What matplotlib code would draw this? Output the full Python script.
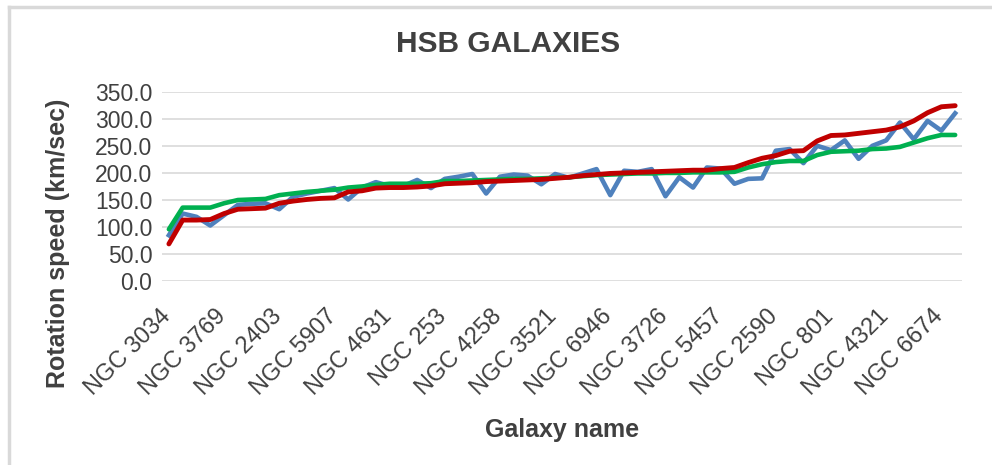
import matplotlib
matplotlib.use("Agg")
import matplotlib.pyplot as plt
import matplotlib.transforms as mtransforms
from matplotlib.lines import Line2D

plt.rcParams['font.family'] = ['Liberation Sans', 'DejaVu Sans']

# rotation speeds (km/sec), galaxies sorted along the x axis
observed = [85, 125, 119, 103, 122, 141, 143, 144, 133, 156,
            162, 167, 172, 151, 173, 183, 176, 176, 187, 172,
            189, 193, 198, 162, 193, 197, 195, 179, 198, 191,
            199, 207, 159, 204, 202, 207, 157, 192, 173, 210,
            208, 180, 189, 190, 241, 244, 218, 250, 242, 260,
            226, 250, 260, 293, 262, 296, 278, 310]
model_a = [96, 136, 136, 136, 144, 150, 151, 152, 159, 162,
           165, 167, 169, 173, 175, 178, 180, 180, 180, 181,
           185, 185, 186, 187, 188, 189, 189, 190, 191, 192,
           194, 196, 197, 198, 199, 199, 200, 200, 201, 201,
           201, 202, 210, 216, 220, 222, 222, 233, 239, 240,
           241, 244, 245, 248, 256, 264, 270, 270]
model_b = [69, 113, 113, 114, 125, 133, 134, 135, 144, 148,
           151, 153, 154, 165, 167, 172, 173, 173, 174, 176,
           180, 181, 182, 184, 185, 186, 187, 188, 190, 192,
           195, 197, 199, 200, 201, 202, 203, 204, 205, 205,
           208, 210, 219, 227, 232, 240, 241, 259, 269, 270,
           273, 276, 279, 285, 296, 311, 322, 324]

# every fourth galaxy gets a label
tick_labels = ["NGC 3034", "NGC 3769", "NGC 2403", "NGC 5907", "NGC 4631",
               "NGC 253", "NGC 4258", "NGC 3521", "NGC 6946", "NGC 3726",
               "NGC 5457", "NGC 2590", "NGC 801", "NGC 4321", "NGC 6674"]
label_step = 4

fig = plt.figure(figsize=(9.92, 4.65), dpi=100)
ax = fig.add_axes([0.1633, 0.395, 0.8065, 0.408])

x = list(range(len(observed)))
ax.plot(x, observed, color="#4F81BD", lw=3.3, solid_joinstyle="round", zorder=3)
ax.plot(x, model_a, color="#00B050", lw=3.3, solid_joinstyle="round",
        solid_capstyle="round", zorder=4)
ax.plot(x, model_b, color="#C00000", lw=3.5, solid_joinstyle="round",
        solid_capstyle="round", zorder=5)

ax.set_xlim(-0.5, len(observed) - 0.5)
ax.set_ylim(0, 350)
yt = [0, 50, 100, 150, 200, 250, 300, 350]
ax.set_yticks(yt)
ax.set_yticklabels([f"{v:.1f}" for v in yt], fontsize=16.5, color="#404040")
ax.set_xticks(x[::label_step])
ax.set_xticklabels(tick_labels, rotation=45, ha="right", va="baseline",
                   rotation_mode="anchor", fontsize=17, color="#404040")
ax.tick_params(length=0)
ax.tick_params(axis="y", pad=7)
ax.tick_params(axis="x", pad=26)
# nudge the slanted labels a little to the right
shift = mtransforms.ScaledTranslation(3 / 100, 0, fig.dpi_scale_trans)
for lbl in ax.get_xticklabels():
    lbl.set_transform(lbl.get_transform() + shift)
ax.grid(axis="y", color="#D9D9D9", lw=1.2)
ax.set_axisbelow(True)
for s in ax.spines.values():
    s.set_visible(False)

ax.set_ylabel("Rotation speed (km/sec)", fontsize=18, fontweight="bold",
              color="#404040")
ax.yaxis.set_label_coords(-0.115, 0.2)
ax.set_xlabel("Galaxy name", fontsize=18, fontweight="bold", color="#404040")
ax.xaxis.set_label_coords(0.5, -0.72)

fig.text(0.5126, 0.905, "HSB GALAXIES", ha="center", va="center",
         fontsize=21.5, fontweight="bold", color="#404040")

# chart frame edges
fig.add_artist(Line2D([9 / 992, 1], [1 - 7.5 / 465] * 2, color="#D9D9D9", lw=2.5))
fig.add_artist(Line2D([9 / 992] * 2, [0, 1 - 7.5 / 465], color="#D9D9D9", lw=2.5))

fig.savefig("out.png", dpi=100)
